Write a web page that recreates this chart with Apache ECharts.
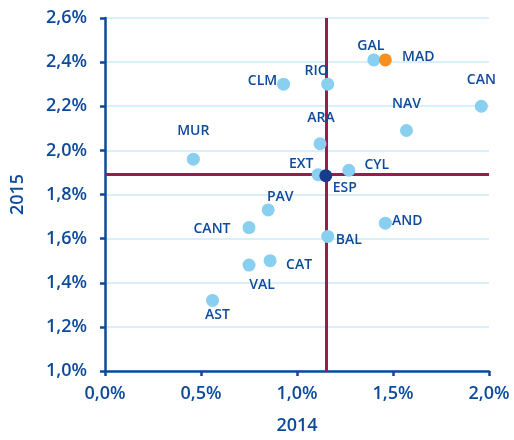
<!DOCTYPE html>
<html>
<head>
    <meta charset="utf-8">
    <title>ECharts</title>
    <script type="text/javascript" src="https://cdn.jsdelivr.net/npm/echarts@6/dist/echarts.min.js"></script>
    <style type="text/css">
        body{ margin:0; }
        #main{ width:514px; height:440px; }
    </style>
</head>
<body>
    <div id="main"></div>
    <script type="text/javascript">
        // datos: crecimiento 2014 (x) y 2015 (y) por comunidad
        var regions = ['MUR','CLM','RIO','GAL','MAD','CAN','NAV','ARA','EXT','CYL','PAV','CANT','VAL','AST','CAT','BAL','AND','ESP'];
        var x2014 = [0.46, 0.93, 1.16, 1.40, 1.46, 1.96, 1.57, 1.12, 1.11, 1.27, 0.85, 0.75, 0.75, 0.56, 0.86, 1.16, 1.46, 1.15];
        var y2015 = [1.96, 2.30, 2.30, 2.41, 2.41, 2.20, 2.09, 2.03, 1.89, 1.91, 1.73, 1.65, 1.48, 1.32, 1.50, 1.61, 1.67, 1.885];
        var xTicks = [0, 0.5, 1.0, 1.5, 2.0];
        var yTicks = [1.0, 1.2, 1.4, 1.6, 1.8, 2.0, 2.2, 2.4, 2.6];

        // desplazamiento de cada etiqueta respecto al punto
        var labelOffset = {
            MUR:[0,-28], CLM:[-21,-3], RIO:[-11,-13], GAL:[-3,-14], MAD:[33,-3], CAN:[0,-26],
            NAV:[0,-27], ARA:[1,-26], EXT:[-17,-11], CYL:[28,-5], PAV:[12,-13], CANT:[-37,1],
            VAL:[13,20], AST:[5,15], CAT:[29,4], BAL:[21,4], AND:[22,-2], ESP:[19,12]
        };
        var pointColor = { MAD:'#f7901e', ESP:'#173c8c' };

        var blue = '#0d4a9c';
        var fmt = function (v) { return v.toFixed(1).replace('.', ',') + '%'; };

        var data = regions.map(function (r, i) {
            return {
                name: r,
                value: [x2014[i], y2015[i]],
                itemStyle: { color: pointColor[r] || '#88cff0', opacity: 1 },
                label: { offset: labelOffset[r] }
            };
        });
        var esp = regions.indexOf('ESP');

        var chart = echarts.init(document.getElementById('main'));
        var option = {
            animation: false,
            textStyle: { fontFamily: 'Open Sans' },
            grid: { left: 105, right: 25, top: 18, bottom: 68 },
            xAxis: {
                type: 'value',
                min: xTicks[0], max: xTicks[xTicks.length - 1], interval: 0.5,
                name: '2014', nameLocation: 'middle', nameGap: 46,
                nameTextStyle: { color: blue, fontSize: 18, fontWeight: 600 },
                axisLine: { lineStyle: { color: blue, width: 2.5 } },
                axisTick: { show: true, length: 5, lineStyle: { color: blue, width: 2.5 } },
                axisLabel: { color: blue, fontSize: 18, fontWeight: 600, margin: 14, formatter: fmt },
                splitLine: { show: false }
            },
            yAxis: {
                type: 'value',
                min: yTicks[0], max: yTicks[yTicks.length - 1], interval: 0.2,
                name: '2015', nameLocation: 'middle', nameGap: 78, nameRotate: 90,
                nameTextStyle: { color: blue, fontSize: 18, fontWeight: 600 },
                axisLine: { show: true, lineStyle: { color: blue, width: 2.5 } },
                axisTick: { show: true, length: 5, lineStyle: { color: blue, width: 2.5 } },
                axisLabel: { color: blue, fontSize: 18, fontWeight: 600, margin: 18, formatter: fmt },
                splitLine: { lineStyle: { color: '#cdeaf8', width: 1.5 } }
            },
            series: [
                {
                    type: 'scatter',
                    z: 1,
                    data: [],
                    markLine: {
                        silent: true,
                        z: 1,
                        symbol: 'none',
                        label: { show: false },
                        lineStyle: { color: '#9c1a4c', width: 3, type: 'solid' },
                        data: [
                            { xAxis: x2014[esp] },
                            { yAxis: y2015[esp] }
                        ]
                    }
                },
                {
                    type: 'scatter',
                    z: 10,
                    symbolSize: 13,
                    data: data,
                    label: {
                        show: true,
                        position: 'inside',
                        formatter: '{b}',
                        color: blue,
                        fontSize: 14,
                        fontWeight: 600
                    }
                }
            ]
        };
        chart.setOption(option);
    </script>
</body>
</html>
